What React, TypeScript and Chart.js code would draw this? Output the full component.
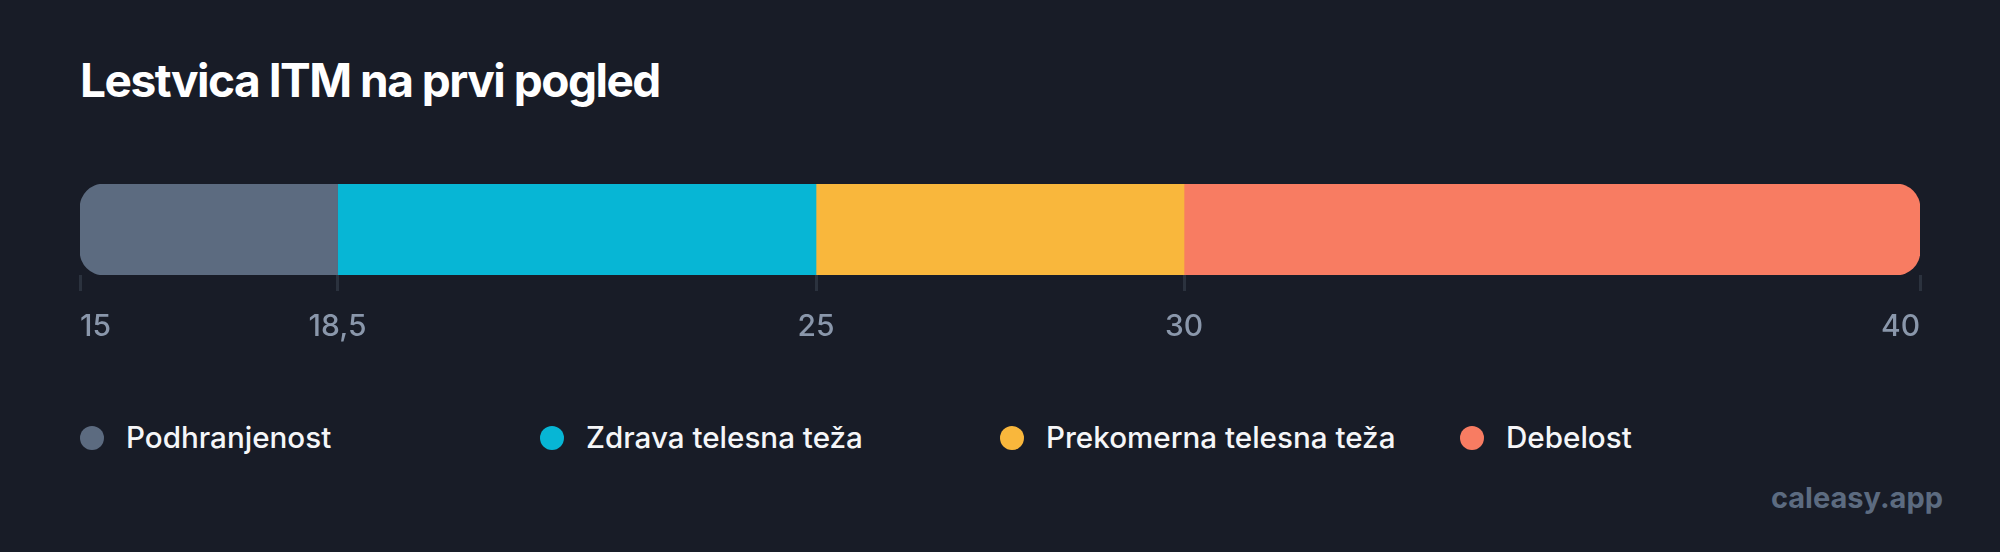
import React, { useEffect, useRef } from "react";
import Chart from "chart.js/auto";

// BMI ranges (one floating bar per category)
const categories = ["ITM"];
const seriesLabels = [
  "Podhranjenost",
  "Zdrava telesna teža",
  "Prekomerna telesna teža",
  "Debelost"
];
const rangeStarts = [15, 18.5, 25, 30];
const rangeEnds = [18.5, 25, 30, 40];
const tickValues = [15, 18.5, 25, 30, 40];
const tickLabels = ["15", "18,5", "25", "30", "40"];

const seriesColors = ["#5c6b80", "#07b6d5", "#f9b73c", "#f87c62"];
const bg = "#181c27";
const font = "Inter, 'Noto Sans', sans-serif";
const tickPad = 18;

const BmiBar: React.FC = () => {
  const chartRef = useRef<HTMLCanvasElement>(null);
  const chartInstance = useRef<Chart>();

  useEffect(() => {
    if (chartRef.current) {
      const ctx = chartRef.current.getContext("2d");
      if (ctx) {
        if (chartInstance.current) {
          chartInstance.current.destroy();
        }
        const last = seriesLabels.length - 1;
        chartInstance.current = new Chart(ctx, {
          type: "bar",
          data: {
            labels: categories,
            datasets: seriesLabels.map((label, i) => ({
              label,
              data: [[rangeStarts[i], rangeEnds[i]]],
              backgroundColor: seriesColors[i],
              borderWidth: 0,
              borderSkipped: false,
              borderRadius:
                i === 0
                  ? { topLeft: 24, bottomLeft: 24, topRight: 0, bottomRight: 0 }
                  : i === last
                  ? { topLeft: 0, bottomLeft: 0, topRight: 24, bottomRight: 24 }
                  : 0,
              grouped: false,
              barPercentage: 1,
              categoryPercentage: 1
            }))
          } as any,
          options: {
            indexAxis: "y",
            animation: false,
            responsive: true,
            maintainAspectRatio: false,
            layout: { padding: 0 },
            plugins: {
              legend: { display: false },
              tooltip: { enabled: false }
            },
            scales: {
              x: {
                type: "linear",
                min: 15,
                max: 40,
                afterBuildTicks: (axis: any) => {
                  axis.ticks = tickValues.map((v) => ({ value: v }));
                },
                ticks: {
                  align: "inner",
                  padding: tickPad,
                  color: "#8a97ab",
                  font: { family: font, size: 30, weight: "500", lineHeight: 1.2 },
                  callback: (_v: any, i: number) => tickLabels[i]
                },
                grid: {
                  drawOnChartArea: false,
                  drawTicks: true,
                  tickLength: 16,
                  tickWidth: 3,
                  tickColor: "#2b323e"
                },
                border: { display: false }
              },
              y: { display: false }
            }
          } as any
        });
      }
    }
    return () => {
      if (chartInstance.current) {
        chartInstance.current.destroy();
      }
    };
  }, []);

  return <canvas ref={chartRef} />;
};

export default function App() {
  return (
    <div
      style={{
        position: "absolute",
        left: 0,
        top: 0,
        width: 2000,
        height: 552,
        background: bg,
        fontFamily: font,
        overflow: "hidden"
      }}
    >
      <div
        style={{
          position: "absolute",
          left: 80,
          top: 57,
          fontSize: 46,
          lineHeight: 1,
          fontWeight: 700,
          letterSpacing: -1.5,
          color: "#ffffff",
          whiteSpace: "nowrap"
        }}
      >
        Lestvica ITM na prvi pogled
      </div>
      <div
        style={{
          position: "absolute",
          left: 80 - tickPad,
          top: 184,
          width: 1840 + 2 * tickPad,
          height: 179
        }}
      >
        <BmiBar />
      </div>
      <div
        style={{
          position: "absolute",
          left: 80,
          top: 423,
          width: 1840,
          display: "grid",
          gridTemplateColumns: "repeat(4, 1fr)"
        }}
      >
        {seriesLabels.map((label, i) => (
          <div key={label} style={{ display: "flex", alignItems: "center", height: 30 }}>
            <span
              style={{
                width: 24,
                height: 24,
                borderRadius: "50%",
                background: seriesColors[i],
                marginRight: 22,
                flex: "none"
              }}
            />
            <span style={{ fontSize: 29.6, lineHeight: 1, fontWeight: 500, color: "#f5f6f8" }}>
              {label}
            </span>
          </div>
        ))}
      </div>
      <div
        style={{
          position: "absolute",
          right: 57,
          top: 483,
          fontSize: 29,
          lineHeight: 1,
          fontWeight: 700,
          color: "#5c6b80"
        }}
      >
        caleasy.app
      </div>
    </div>
  );
}
